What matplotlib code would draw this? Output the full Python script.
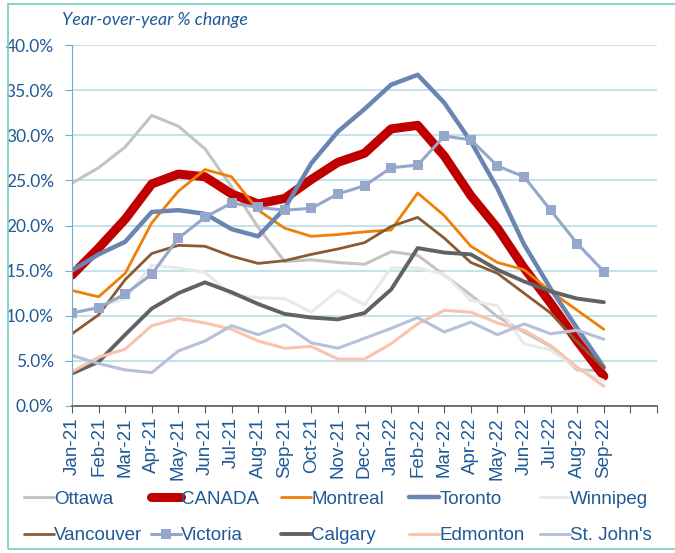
import matplotlib
matplotlib.use("Agg")
import matplotlib.pyplot as plt
from matplotlib.patches import Rectangle
from matplotlib.ticker import FuncFormatter

months = ["Jan-21", "Feb-21", "Mar-21", "Apr-21", "May-21", "Jun-21", "Jul-21",
          "Aug-21", "Sep-21", "Oct-21", "Nov-21", "Dec-21", "Jan-22", "Feb-22",
          "Mar-22", "Apr-22", "May-22", "Jun-22", "Jul-22", "Aug-22", "Sep-22"]

# year-over-year % change
ottawa = [24.7, 26.4, 28.7, 32.2, 31.0, 28.5, 24.3, 19.8, 16.0, 16.2, 15.9, 15.7,
          17.1, 16.7, 14.5, 12.3, 9.9, 8.2, 6.6, 4.0, 3.9]
canada = [14.5, 17.5, 20.7, 24.6, 25.7, 25.4, 23.5, 22.4, 23.0, 25.1, 27.0, 28.0,
          30.7, 31.1, 27.7, 23.3, 19.7, 15.3, 11.4, 7.2, 3.3]
montreal = [12.8, 12.1, 14.7, 20.3, 23.8, 26.2, 25.4, 21.7, 19.7, 18.8, 19.0, 19.3,
            19.5, 23.6, 21.1, 17.7, 15.9, 15.1, 12.7, 10.6, 8.5]
toronto = [15.0, 16.8, 18.2, 21.5, 21.7, 21.3, 19.6, 18.8, 21.9, 26.9, 30.4, 32.9,
           35.6, 36.7, 33.6, 29.3, 24.1, 17.9, 13.0, 8.6, 4.3]
winnipeg = [10.3, 11.0, 11.9, 15.6, 15.3, 14.8, 12.3, 12.0, 11.9, 10.4, 12.8, 11.2,
            15.3, 15.3, 14.6, 11.7, 11.1, 6.9, 6.2, 4.2, 2.8]
vancouver = [8.0, 10.1, 14.0, 16.9, 17.8, 17.7, 16.6, 15.8, 16.1, 16.8, 17.4, 18.1,
             19.9, 20.9, 18.6, 15.9, 14.7, 12.5, 10.3, 7.1, 4.2]
victoria = [10.3, 10.9, 12.4, 14.6, 18.6, 20.9, 22.5, 22.0, 21.7, 21.9, 23.5, 24.4,
            26.4, 26.7, 29.9, 29.5, 26.6, 25.4, 21.7, 18.0, 14.9]
calgary = [3.6, 4.9, 7.9, 10.8, 12.5, 13.7, 12.6, 11.3, 10.2, 9.8, 9.6, 10.3,
           12.9, 17.5, 17.0, 16.8, 15.1, 13.8, 12.7, 11.9, 11.5]
edmonton = [3.8, 5.4, 6.3, 8.9, 9.7, 9.2, 8.5, 7.2, 6.4, 6.6, 5.2, 5.2,
            6.9, 9.1, 10.6, 10.4, 9.2, 8.4, 6.7, 4.3, 2.2]
stjohns = [5.6, 4.7, 4.0, 3.7, 6.1, 7.2, 8.9, 7.9, 9.0, 7.0, 6.4, 7.5,
           8.6, 9.8, 8.2, 9.3, 7.9, 9.1, 8.0, 8.4, 7.4]

names = ["Ottawa", "CANADA", "Montreal", "Toronto", "Winnipeg",
         "Vancouver", "Victoria", "Calgary", "Edmonton", "St. John's"]
values = [ottawa, canada, montreal, toronto, winnipeg,
          vancouver, victoria, calgary, edmonton, stjohns]
colors = ["#c3c3c3", "#c00000", "#f07f09", "#6b84b2", "#e9e9e9",
          "#8c5a32", "#95a7cb", "#626262", "#f9c3ae", "#b7c0da"]
widths = [2.2, 6.5, 2.0, 3.2, 2.2, 2.0, 2.2, 2.8, 2.2, 2.2]

TXT = "#1f5a96"

fig = plt.figure(figsize=(6.75, 5.53), dpi=100)
ax = fig.add_axes([72 / 675, 1 - 406 / 553, 585 / 675, 361 / 553])

x = list(range(len(months)))
handles = []
for name, vals, c, lw in zip(names, values, colors, widths):
    kw = {}
    if name == "Victoria":
        kw = dict(marker="s", markersize=6.5, markeredgewidth=0)
    h, = ax.plot(x, [v / 100 for v in vals], color=c, lw=lw, label=name,
                 solid_joinstyle="round", solid_capstyle="round", **kw)
    handles.append(h)

ax.set_xlim(0, 22)
ax.set_ylim(0, 0.40)
ax.set_yticks([i * 0.05 for i in range(9)])
ax.yaxis.set_major_formatter(FuncFormatter(lambda v, p: f"{v * 100:.1f}%"))
ax.set_xticks(range(23))
ax.set_xticklabels(months + ["", ""], rotation=90, fontsize=13.5,
                   family="Liberation Sans", color=TXT)
for lab in ax.get_yticklabels():
    lab.set_family("Lato")
    lab.set_fontsize(12.5)
    lab.set_color(TXT)

ax.grid(axis="y", color="#b9dde6", lw=1.2)
ax.set_axisbelow(True)
for s in ["top", "right"]:
    ax.spines[s].set_visible(False)
ax.spines["left"].set_color("#6fb0c8")
ax.spines["bottom"].set_color("#595959")
ax.spines["bottom"].set_linewidth(1.2)
ax.tick_params(axis="y", length=5, color="#6fb0c8", pad=8)
ax.tick_params(axis="x", length=5, color="#595959", pad=3)

fig.text(62 / 675, 1 - 20 / 553, "Year-over-year % change", style="italic",
         family="Lato", fontsize=12.8, color=TXT, va="center")

# legend: one small legend per column so the columns sit where they do in the original
col_x = [15, 142, 272, 400, 531]
for j, cx in enumerate(col_x):
    idx = [j, j + 5]
    fig.legend([handles[i] for i in idx], [names[i] for i in idx],
               loc="upper left", bbox_to_anchor=(cx / 675, 1 - 481 / 553),
               frameon=False, borderpad=0, handlelength=1.6,
               handletextpad=0.0, labelspacing=1.05,
               prop={"family": "Liberation Sans", "size": 13.5}, labelcolor=TXT)

fig.patches.append(Rectangle((8 / 675, 4 / 553), 1.2, 1 - 8 / 553,
                             transform=fig.transFigure, fill=False,
                             edgecolor="#7fd0c6", lw=1.3))

fig.savefig("out.png", dpi=100)
